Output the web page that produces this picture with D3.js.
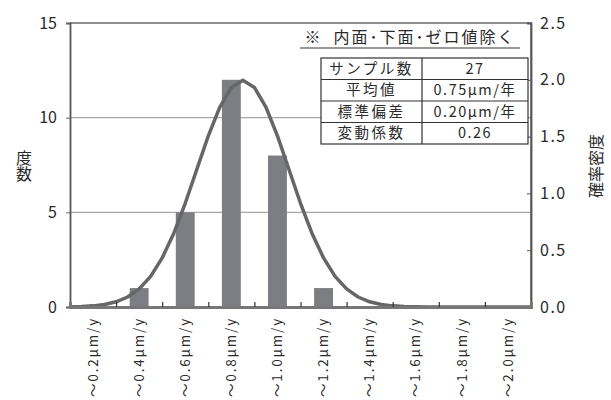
<!DOCTYPE html>
<html>
<head>
<meta charset="utf-8">
<script src="https://cdn.jsdelivr.net/npm/d3@7"></script>
<style>
  html, body { margin: 0; padding: 0; background: #fff; }
  svg { display: block; }
  text { font-family: "Noto Sans CJK JP", "Noto Sans", sans-serif; fill: #2a2a2a; }
</style>
</head>
<body>
<svg id="chart" width="611" height="400"></svg>
<script>
// Histogram categories (upper bin bound) and observed counts
const categories = ["～0.2μm/y", "～0.4μm/y", "～0.6μm/y", "～0.8μm/y", "～1.0μm/y",
                    "～1.2μm/y", "～1.4μm/y", "～1.6μm/y", "～1.8μm/y", "～2.0μm/y"];
const counts = [0, 1, 5, 12, 8, 1, 0, 0, 0, 0];

// Probability density curve (x in μm/y, density on the secondary axis)
const curveX = [0.00, 0.05, 0.10, 0.15, 0.20, 0.25, 0.30, 0.35, 0.40, 0.45,
                0.50, 0.55, 0.60, 0.65, 0.70, 0.75, 0.80, 0.85, 0.90, 0.95,
                1.00, 1.05, 1.10, 1.15, 1.20, 1.25, 1.30, 1.35, 1.40, 1.45,
                1.50, 1.55, 1.60, 1.65, 1.70, 1.75, 1.80, 1.85, 1.90, 1.95, 2.00];
const curveY = [0.002, 0.004, 0.010, 0.022, 0.046, 0.088, 0.159, 0.270, 0.432, 0.648,
                0.913, 1.210, 1.506, 1.760, 1.933, 1.995, 1.933, 1.760, 1.506, 1.210,
                0.913, 0.648, 0.432, 0.270, 0.159, 0.088, 0.046, 0.022, 0.010, 0.004,
                0.002, 0.001, 0.000, 0.000, 0.000, 0.000, 0.000, 0.000, 0.000, 0.000, 0.000];

// Axis ticks
const countTicks = [0, 5, 10, 15];
const densityTicks = [0, 0.5, 1.0, 1.5, 2.0, 2.5];
const binEdges = [0.2, 0.4, 0.6, 0.8, 1.0, 1.2, 1.4, 1.6, 1.8];

// Summary table
const statNames = ["サンプル数", "平均値", "標準偏差", "変動係数"];
const statValues = ["27", "0.75μm/年", "0.20μm/年", "0.26"];
const noteText = "※  内面･下面･ゼロ値除く";

const svg = d3.select("#chart");
const L = 70, R = 531, T = 23, B = 307;

const xBand = d3.scaleBand().domain(categories).range([L, R])
  .paddingInner(0.59).paddingOuter(0.295);
const xLin = d3.scaleLinear().domain([0, 2]).range([L, R]);
const yCount = d3.scaleLinear().domain([0, 15]).range([B, T]);
const yDen = d3.scaleLinear().domain([0, 2.5]).range([B, T]);

// gridlines
svg.append("g").selectAll("line").data([5, 10]).join("line")
  .attr("x1", L).attr("x2", R)
  .attr("y1", d => yCount(d)).attr("y2", d => yCount(d))
  .attr("stroke", "#a8a8a8").attr("stroke-width", 1.2);

// plot frame (top and right)
svg.append("path")
  .attr("d", `M${L},${T}H${R}V${B}`)
  .attr("fill", "none").attr("stroke", "#6a6a6a").attr("stroke-width", 1.5);

// bars
svg.append("g").selectAll("rect").data(counts).join("rect")
  .attr("x", (d, i) => xBand(categories[i]))
  .attr("width", xBand.bandwidth())
  .attr("y", d => yCount(d))
  .attr("height", d => B - yCount(d))
  .attr("fill", "#7d7e83");

// density curve
const line = d3.line().x((d, i) => xLin(curveX[i])).y(d => yDen(d));
svg.append("path").datum(curveY)
  .attr("d", line)
  .attr("fill", "none").attr("stroke", "#666666").attr("stroke-width", 3.5)
  .attr("stroke-linejoin", "round");

// left axis
const gl = svg.append("g").attr("transform", `translate(${L},0)`)
  .call(d3.axisLeft(yCount).tickValues(countTicks).tickSize(4).tickPadding(9));
gl.select(".domain").attr("stroke", "#555").attr("stroke-width", 1.8);
gl.selectAll(".tick line").attr("stroke", "#666");
gl.selectAll(".tick text").attr("font-size", 16).attr("font-family", "Noto Sans CJK JP").attr("fill", "#2a2a2a");

// right axis
const gr = svg.append("g").attr("transform", `translate(${R},0)`)
  .call(d3.axisRight(yDen).tickValues(densityTicks).tickSize(-4).tickPadding(9)
    .tickFormat(d3.format(".1f")));
gr.select(".domain").attr("stroke", "#555").attr("stroke-width", 1.8);
gr.selectAll(".tick line").attr("stroke", "#555");
gr.selectAll(".tick text").attr("font-size", 16).attr("font-family", "Noto Sans CJK JP")
  .attr("letter-spacing", "1.5px").attr("fill", "#2a2a2a");

// bottom axis: bin-edge ticks pointing inward
const gb = svg.append("g").attr("transform", `translate(0,${B})`)
  .call(d3.axisBottom(xLin).tickValues(binEdges).tickSize(-5).tickFormat(""));
gb.select(".domain").attr("stroke", "#777").attr("stroke-width", 3);
gb.selectAll(".tick line").attr("stroke", "#333").attr("stroke-width", 1.2);

// category labels, rotated
const gc = svg.append("g").attr("transform", `translate(0,${B})`)
  .call(d3.axisBottom(xBand).tickSize(0).tickPadding(0));
gc.select(".domain").remove();
gc.selectAll(".tick text")
  .attr("transform", "rotate(-90)")
  .attr("x", -10).attr("y", 0).attr("dy", "0.35em")
  .attr("text-anchor", "end")
  .attr("font-size", 13.5).attr("letter-spacing", "1.8px")
  .attr("font-family", "Noto Sans CJK JP").attr("fill", "#2a2a2a");

// axis titles
svg.append("text")
  .attr("x", 24).attr("y", 166)
  .attr("writing-mode", "vertical-rl")
  .attr("text-anchor", "middle")
  .attr("font-size", 16)
  .text("度数");
svg.append("text")
  .attr("transform", "translate(596,166) rotate(-90)")
  .attr("text-anchor", "middle").attr("dy", "0.35em")
  .attr("font-size", 16)
  .text("確率密度");

// note above table
svg.append("text")
  .attr("x", 410).attr("y", 43)
  .attr("text-anchor", "middle")
  .attr("font-size", 16).attr("letter-spacing", "2px")
  .attr("xml:space", "preserve")
  .text(noteText);
svg.append("line")
  .attr("x1", 300).attr("x2", 520).attr("y1", 48).attr("y2", 48)
  .attr("stroke", "#333").attr("stroke-width", 1);

// summary table
const tX0 = 321, tX1 = 422, tX2 = 528, tY0 = 58, rowH = 21.5;
const rowScale = d3.scaleBand().domain(d3.range(statNames.length))
  .range([tY0, tY0 + rowH * statNames.length]);
const tbl = svg.append("g");
tbl.append("rect")
  .attr("x", tX0).attr("y", tY0).attr("width", tX2 - tX0).attr("height", rowH * statNames.length)
  .attr("fill", "#fff").attr("stroke", "#333").attr("stroke-width", 1.2);
tbl.selectAll("line.row").data(d3.range(1, statNames.length)).join("line")
  .attr("class", "row")
  .attr("x1", tX0).attr("x2", tX2)
  .attr("y1", d => rowScale(d)).attr("y2", d => rowScale(d))
  .attr("stroke", "#333").attr("stroke-width", 1.2);
tbl.append("line").attr("x1", tX1).attr("x2", tX1)
  .attr("y1", tY0).attr("y2", tY0 + rowH * statNames.length)
  .attr("stroke", "#333").attr("stroke-width", 1.2);
tbl.selectAll("text.name").data(statNames).join("text")
  .attr("class", "name")
  .attr("x", (tX0 + tX1) / 2)
  .attr("y", (d, i) => rowScale(i) + rowH / 2)
  .attr("dy", "0.36em").attr("text-anchor", "middle")
  .attr("font-size", 14.5).attr("letter-spacing", "2.5px")
  .text(d => d);
tbl.selectAll("text.val").data(statValues).join("text")
  .attr("class", "val")
  .attr("x", (tX1 + tX2) / 2)
  .attr("y", (d, i) => rowScale(i) + rowH / 2)
  .attr("dy", "0.36em").attr("text-anchor", "middle")
  .attr("font-size", 14.5).attr("letter-spacing", "1.5px")
  .text(d => d);
</script>
</body>
</html>
